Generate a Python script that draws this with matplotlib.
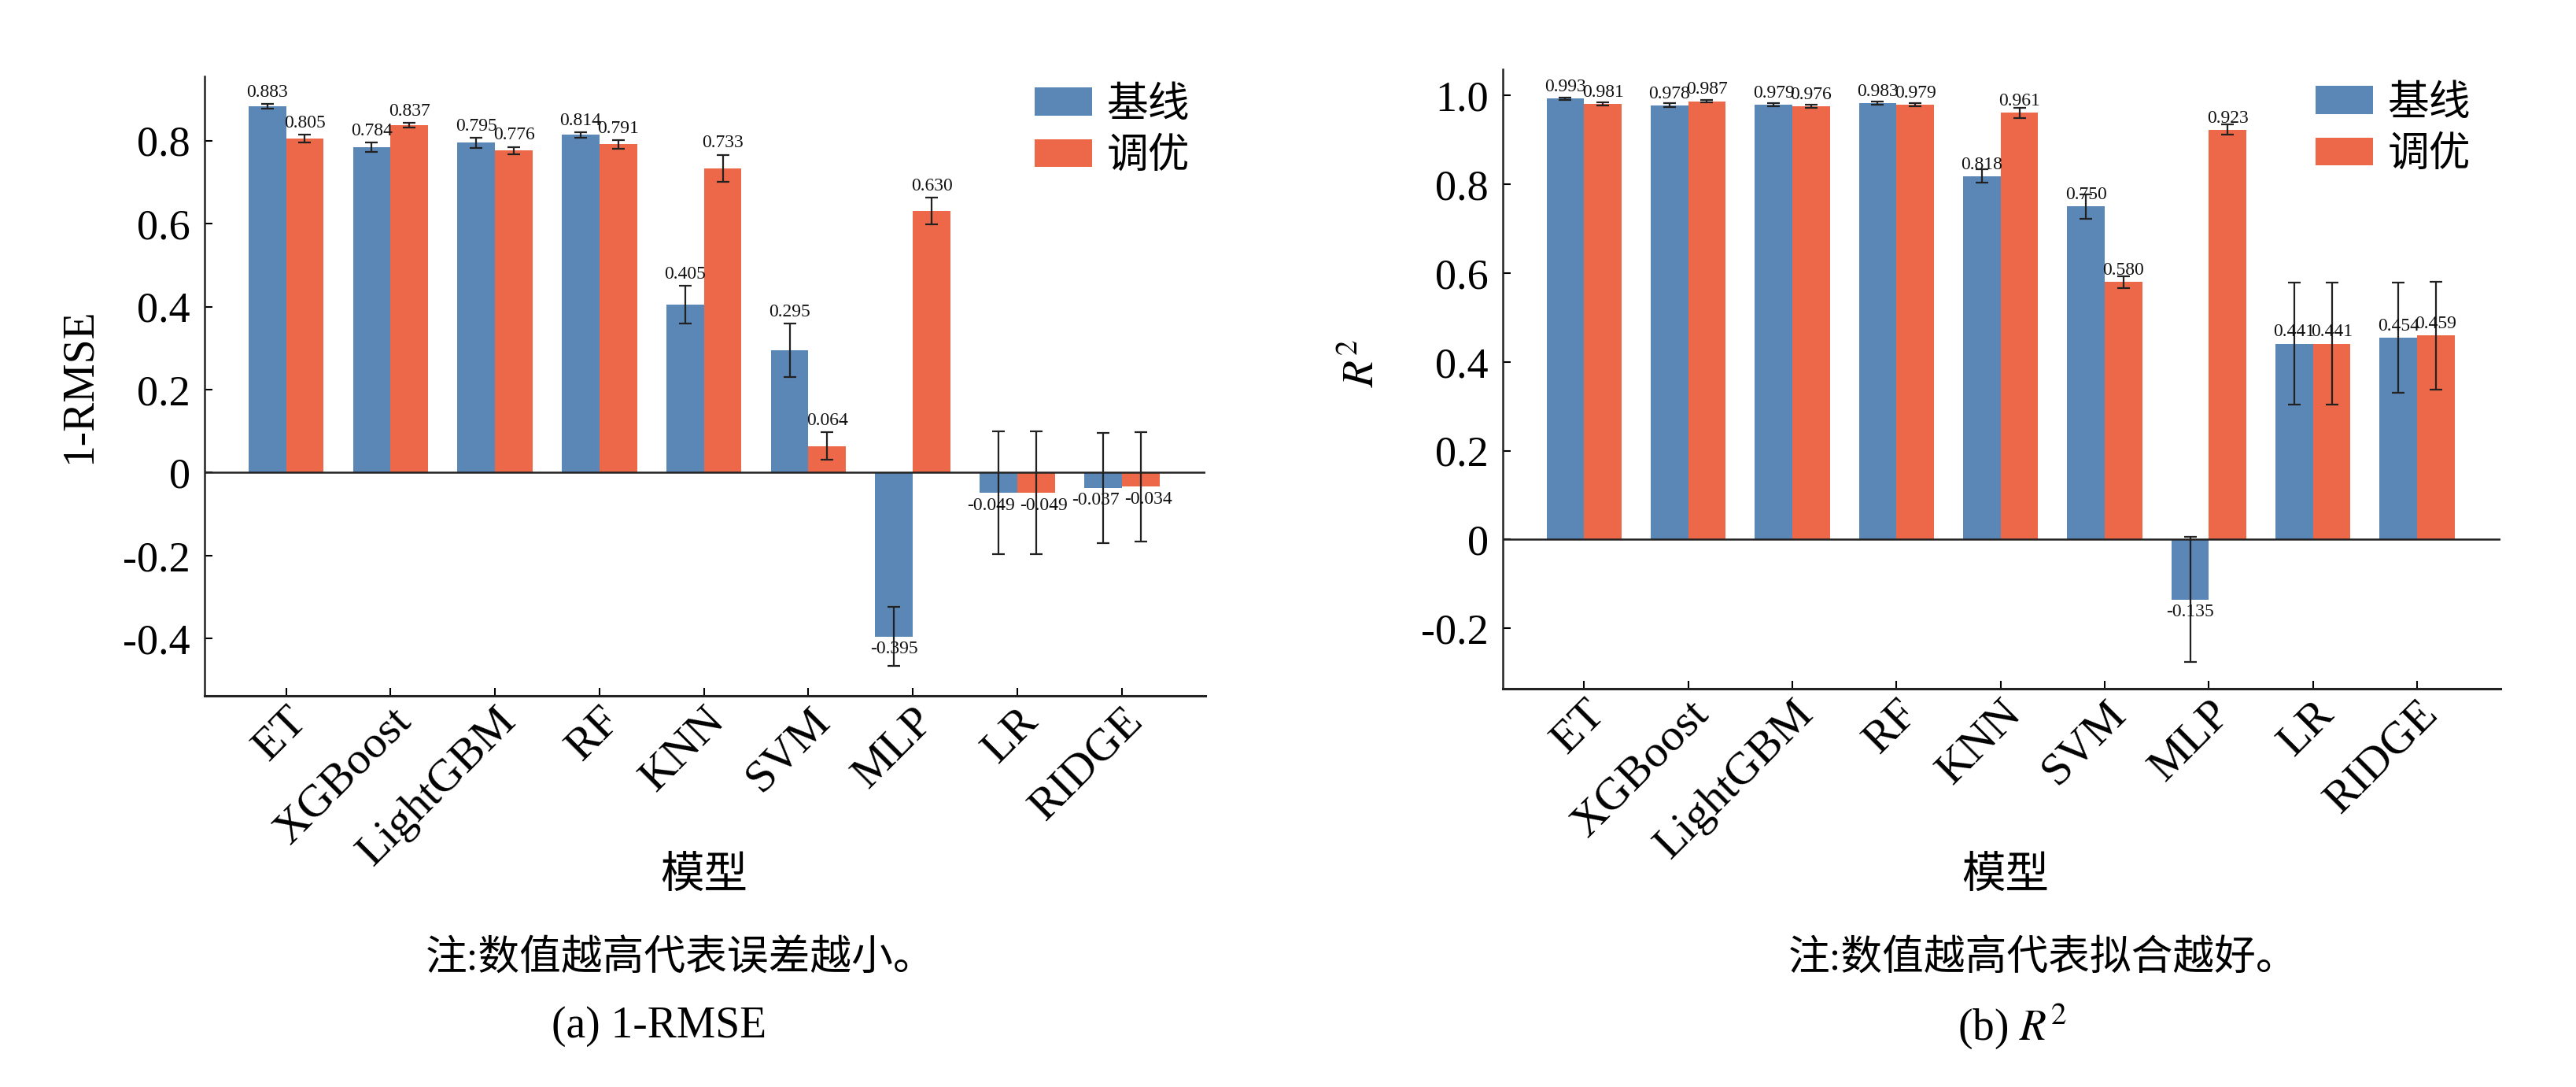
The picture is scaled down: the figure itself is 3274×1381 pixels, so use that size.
import numpy as np
import matplotlib
matplotlib.use("Agg")
import matplotlib.pyplot as plt
from matplotlib.ticker import FuncFormatter, MultipleLocator
from matplotlib.transforms import ScaledTranslation

plt.rcParams['font.family'] = ['Liberation Serif', 'Noto Sans CJK SC', 'DejaVu Sans']
plt.rcParams['mathtext.fontset'] = 'stix'

models = ["ET", "XGBoost", "LightGBM", "RF", "KNN", "SVM", "MLP", "LR", "RIDGE"]
series_names = ["基线", "调优"]

rmse_base = [0.883, 0.784, 0.795, 0.814, 0.405, 0.295, -0.395, -0.049, -0.037]
rmse_tuned = [0.805, 0.837, 0.776, 0.791, 0.733, 0.064, 0.630, -0.049, -0.034]
rmse_base_err = [0.006, 0.011, 0.012, 0.0065, 0.046, 0.064, 0.071, 0.148, 0.133]
rmse_tuned_err = [0.0095, 0.006, 0.009, 0.010, 0.033, 0.033, 0.032, 0.148, 0.132]

r2_base = [0.993, 0.978, 0.979, 0.983, 0.818, 0.750, -0.135, 0.441, 0.454]
r2_tuned = [0.981, 0.987, 0.976, 0.979, 0.961, 0.580, 0.923, 0.441, 0.459]
r2_base_err = [0.003, 0.004, 0.004, 0.003, 0.015, 0.028, 0.141, 0.137, 0.124]
r2_tuned_err = [0.003, 0.003, 0.004, 0.004, 0.012, 0.0135, 0.0116, 0.137, 0.121]

ylabels = ["1-RMSE", "$R^2$"]
notes = ["注:数值越高代表误差越小。", "注:数值越高代表拟合越好。"]
captions = ["(a) 1-RMSE", "(b) $R^2$"]
xlabel = "模型"

BLUE = "#5B87B7"
ORANGE = "#EC6848"

W, H = 3274, 1381
fig = plt.figure(figsize=(W / 100, H / 100), dpi=100)

def fx(px):
    return px / W

def fy(py):
    return 1 - py / H

ax1 = fig.add_axes([fx(260), fy(884), fx(1532) - fx(260), fy(97) - fy(884)])
ax2 = fig.add_axes([fx(1910), fy(875), fx(3178) - fx(1910), fy(88) - fy(875)])

fmt = FuncFormatter(lambda v, p: "0" if abs(v) < 1e-9 else f"{v:.1f}")

def draw(ax, base, tuned, be, te, ylim, ylab, label_on_err, ylab_x, ylab_y, leg_xy):
    x = np.arange(len(models))
    w = 0.36
    ekw = dict(elinewidth=1.6, capthick=1.6, ecolor="#222222")
    ax.bar(x - w / 2, base, w, color=BLUE, yerr=be, capsize=6, error_kw=ekw, label=series_names[0], zorder=2)
    ax.bar(x + w / 2, tuned, w, color=ORANGE, yerr=te, capsize=6, error_kw=ekw, label=series_names[1], zorder=2)
    ax.axhline(0, color="#222222", lw=1.8, zorder=3)
    both_neg = [(b < 0 and t < 0) for b, t in zip(base, tuned)]
    for side, xs, vals, errs in ((-1, x - w / 2, base, be), (1, x + w / 2, tuned, te)):
        for i, (xi, v, e) in enumerate(zip(xs, vals, errs)):
            if v >= 0:
                yy = v + e if label_on_err else v
                ax.annotate(f"{v:.3f}", (xi, yy), xytext=(0, 3), textcoords="offset points",
                            ha="center", va="bottom", fontsize=17, color="#111111")
            else:
                dx = side * 7 if both_neg[i] else 0
                ax.annotate(f"{v:.3f}", (xi, v), xytext=(dx, -4), textcoords="offset points",
                            ha="center", va="top", fontsize=17, color="#111111")
    ax.set_xlim(-0.78, 8.8)
    ax.set_ylim(*ylim)
    ax.yaxis.set_major_locator(MultipleLocator(0.2))
    ax.yaxis.set_major_formatter(fmt)
    ax.set_xticks(x)
    ax.set_xticklabels(models, rotation=45, ha="right", va="top", rotation_mode="anchor", fontsize=42)
    off = ScaledTranslation(10 / 100, 0, fig.dpi_scale_trans)
    for lbl in ax.get_xticklabels():
        lbl.set_transform(lbl.get_transform() + off)
    ax.tick_params(axis="y", direction="in", length=7, width=1.5, labelsize=39, pad=13)
    ax.tick_params(axis="x", direction="in", length=7, width=1.5, pad=4)
    for s in ("top", "right"):
        ax.spines[s].set_visible(False)
    ax.spines["left"].set_linewidth(1.8)
    ax.spines["bottom"].set_linewidth(2.2)
    ax.spines["left"].set_color("#222222")
    ax.spines["bottom"].set_color("#222222")
    ax.set_ylabel(ylab, fontsize=40)
    ax.yaxis.set_label_coords(ylab_x, ylab_y)
    ax.legend(loc="upper right", bbox_to_anchor=(fx(leg_xy[0]), fy(leg_xy[1])),
              bbox_transform=fig.transFigure, frameon=False, fontsize=38, handlelength=1.38,
              handleheight=0.66, handletextpad=0.35, labelspacing=0.33,
              borderaxespad=0.0, borderpad=0.0)

draw(ax1, rmse_base, rmse_tuned, rmse_base_err, rmse_tuned_err, (-0.538, 0.955),
     ylabels[0], True, (127 - 260) / 1272, 0.5, (1512, 110))
draw(ax2, r2_base, r2_tuned, r2_base_err, r2_tuned_err, (-0.336, 1.059),
     ylabels[1], False, (1758 - 1910) / 1268, 0.525, (3140, 108))

# axis titles and captions
fig.text(fx(895), fy(1114), xlabel, ha="center", va="center", fontsize=40)
fig.text(fx(2549), fy(1114), xlabel, ha="center", va="center", fontsize=40)
fig.text(fx(865), fy(1219), notes[0], ha="center", va="center", fontsize=38)
fig.text(fx(2597), fy(1219), notes[1], ha="center", va="center", fontsize=38)
fig.text(fx(838), fy(1304), captions[0], ha="center", va="center", fontsize=40)
fig.text(fx(2558), fy(1304), captions[1], ha="center", va="center", fontsize=40)

fig.savefig("out.png", dpi=100)
